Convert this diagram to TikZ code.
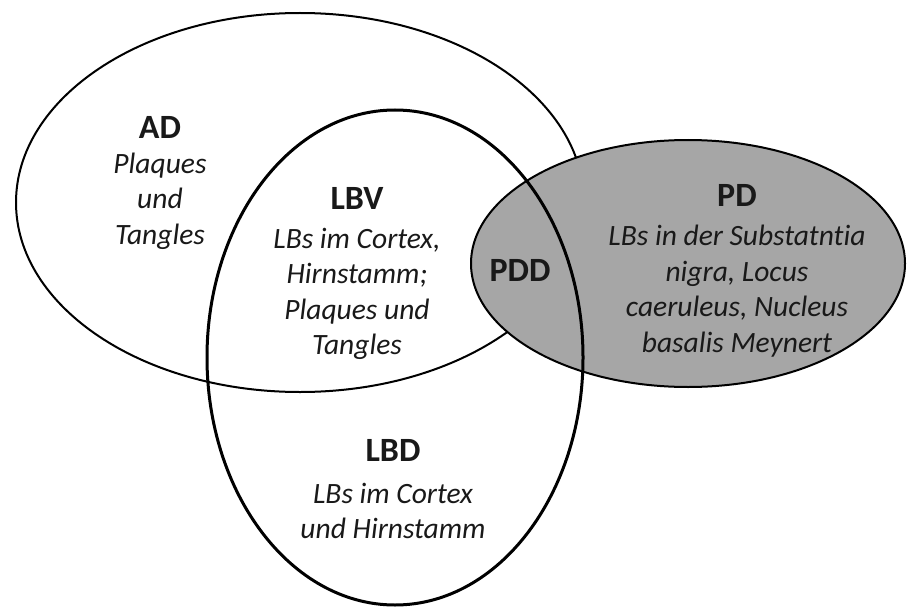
\documentclass[tikz,border=0pt]{standalone}
\usepackage{fontspec}
\setmainfont[Ligatures=NoCommon]{Carlito}
\definecolor{pdgray}{RGB}{166,166,166}
\definecolor{txt}{RGB}{25,25,25}
\begin{document}
\begin{tikzpicture}[x=1pt,y=-1pt,
  head/.style={font=\bfseries\fontsize{34}{38}\selectfont, text=txt, inner sep=0pt},
  body/.style={font=\itshape\fontsize{29.5}{35.5}\selectfont, text=txt, align=center, inner sep=0pt},
  thin ring/.style={draw=black, line width=2pt},
  thick ring/.style={draw=black, line width=3pt}]
\useasboundingbox (0,0) rectangle (907,607);
% AD ellipse
\draw[thin ring] (300,202.5) ellipse [x radius=284pt, y radius=189.5pt];
% PD ellipse (filled, covers AD)
\filldraw[thin ring, fill=pdgray] (688,263.5) ellipse [x radius=217pt, y radius=123.5pt];
% LBD ellipse (on top)
\draw[thick ring] (395,357.5) ellipse [x radius=188pt, y radius=247.5pt];

\node[head] (adh) at (160,127) {AD};
\node[body] (adt) at (160,201) {Plaques\\und\\Tangles};

\node[head] (lbvh) at (357,198) {LBV};
\node[body] (lbvt) at (357,294) {LBs im Cortex,\\Hirnstamm;\\Plaques und\\Tangles};

\node[head] (pddh) at (520,270) {PDD};

\node[head] (pdh) at (737,195) {PD};
\node[body] (pdt) at (737,291) {LBs in der Substatntia\\nigra, Locus\\caeruleus, Nucleus\\basalis Meynert};

\node[head] (lbdh) at (393,450) {LBD};
\node[body] (lbdt) at (393,511) {LBs im Cortex\\und Hirnstamm};
\end{tikzpicture}
\end{document}
